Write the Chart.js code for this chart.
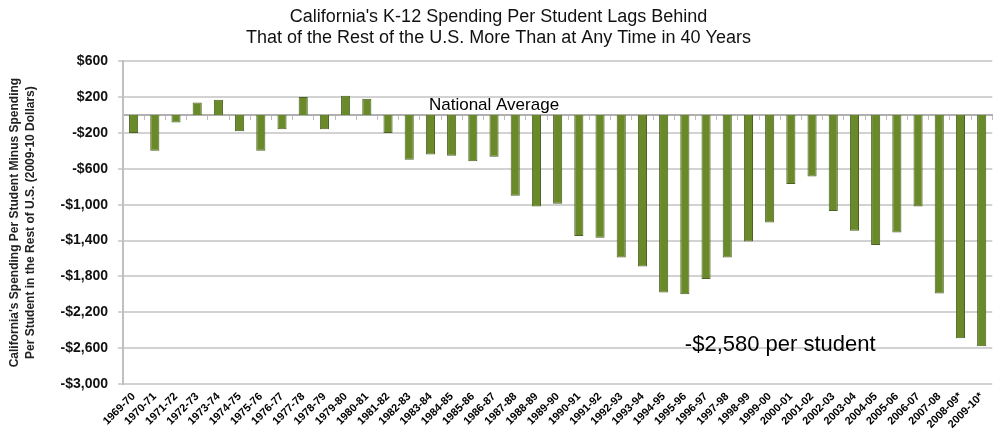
<!DOCTYPE html>
<html>
<head>
<meta charset="utf-8">
<title>California K-12 Spending Per Student</title>
<script src="https://cdn.jsdelivr.net/npm/chart.js@4"></script>
<style>
  body { margin: 0; background: #fff; }
</style>
</head>
<body>
<canvas id="spendingChart" width="997" height="438"></canvas>
<script>
// school years along the bottom
var years = [
    '1969-70', '1970-71', '1971-72', '1972-73', '1973-74', '1974-75', '1975-76',
    '1976-77', '1977-78', '1978-79', '1979-80', '1980-81', '1981-82', '1982-83',
    '1983-84', '1984-85', '1985-86', '1986-87', '1987-88', '1988-89', '1989-90',
    '1990-91', '1991-92', '1992-93', '1993-94', '1994-95', '1995-96', '1996-97',
    '1997-98', '1998-99', '1999-00', '2000-01', '2001-02', '2002-03', '2003-04',
    '2004-05', '2005-06', '2006-07', '2007-08', '2008-09*', '2009-10*'
];

// California per-student spending minus rest of U.S. (2009-10 dollars)
var gap = [
    -200, -400, -85, 140, 170, -180, -400,
    -160, 200, -160, 215, 180, -200, -500,
    -440, -455, -515, -465, -900, -1020, -990,
    -1350, -1370, -1590, -1690, -1980, -2000, -1830,
    -1590, -1410, -1200, -770, -685, -1070, -1290,
    -1450, -1310, -1020, -1990, -2490, -2580
];

var yTicks = [600, 200, -200, -600, -1000, -1400, -1800, -2200, -2600, -3000];

var titleLines = [
    "California's K-12 Spending Per Student Lags Behind",
    'That of the Rest of the U.S. More Than at Any Time in 40 Years'
];
var axisTitleLines = [
    "California's Spending Per Student Minus Spending",
    'Per Student in the Rest of U.S. (2009-10 Dollars)'
];

var fontFamily = '"Liberation Sans", Arial, sans-serif';

// -$1,000 style labels
function dollars(v) {
    return (v < 0 ? '-' : '') + '$' + Math.abs(v).toLocaleString('en-US');
}

// text notes drawn on top of the bars
var notes = {
    id: 'notes',
    afterDatasetsDraw: function(chart) {
        var ctx = chart.ctx;
        var x = chart.scales.x;
        var y = chart.scales.y;
        var last = gap[gap.length - 1];
        ctx.save();
        ctx.fillStyle = '#000';
        ctx.textAlign = 'center';
        ctx.textBaseline = 'alphabetic';
        ctx.font = '17px ' + fontFamily;
        ctx.fillText('National Average', x.getPixelForValue(17), y.getPixelForValue(0) - 5);
        ctx.font = '22px ' + fontFamily;
        ctx.fillText(dollars(last) + ' per student',
            (x.getPixelForValue(30) + x.getPixelForValue(31)) / 2,
            y.getPixelForValue(-2630));
        ctx.restore();
    }
};

var canvas = document.getElementById('spendingChart');

var spendingChart = new Chart(canvas, {
    type: 'bar',
    data: {
        labels: years,
        datasets: [{
            label: 'Spending gap',
            data: gap,
            xAxisID: 'x',
            yAxisID: 'y',
            backgroundColor: '#6a8a2a',
            borderColor: '#4c6124',
            borderWidth: 1,
            barPercentage: 0.43,
            categoryPercentage: 1
        }]
    },
    plugins: [notes],
    options: {
        responsive: false,
        animation: false,
        layout: {
            padding: { top: 0, right: 0, bottom: 0, left: 0 }
        },
        plugins: {
            legend: { display: false },
            tooltip: { enabled: false },
            title: {
                display: true,
                text: titleLines,
                color: '#111',
                font: { family: fontFamily, size: 18, weight: 'normal', lineHeight: 1.2 },
                padding: { top: 6, bottom: 12 }
            }
        },
        scales: {
            x: {
                grid: { display: false, drawTicks: false },
                border: { display: false },
                ticks: {
                    color: '#000',
                    autoSkip: false,
                    minRotation: 45,
                    maxRotation: 45,
                    padding: 6,
                    font: { family: fontFamily, size: 11, weight: 'bold' }
                },
                afterFit: function(scale) { scale.height = 54; }
            },
            // zero line with little ticks between the bars
            xZero: {
                type: 'category',
                axis: 'x',
                position: { y: 0 },
                offset: true,
                grid: { offset: true, drawOnChartArea: false, color: '#bdbdbd', tickLength: 4 },
                border: { display: true, color: '#b0b0b0', width: 2 },
                ticks: { display: false }
            },
            y: {
                min: -3000,
                max: 600,
                afterBuildTicks: function(scale) {
                    scale.ticks = yTicks.map(function(v) { return { value: v }; });
                },
                grid: { color: '#d2d2d2', lineWidth: 2, tickLength: 5 },
                border: { display: true, color: '#c0c0c0', width: 2 },
                ticks: {
                    color: '#111',
                    padding: 10,
                    font: { family: fontFamily, size: 14, weight: 'bold' },
                    callback: function(v) { return dollars(v); }
                },
                title: {
                    display: true,
                    text: axisTitleLines,
                    color: '#222',
                    font: { family: fontFamily, size: 12, weight: 'bold', lineHeight: 1.3 },
                    padding: { top: 7, bottom: 0 }
                },
                afterFit: function(scale) { scale.width = 123; }
            }
        }
    }
});
</script>
</body>
</html>
